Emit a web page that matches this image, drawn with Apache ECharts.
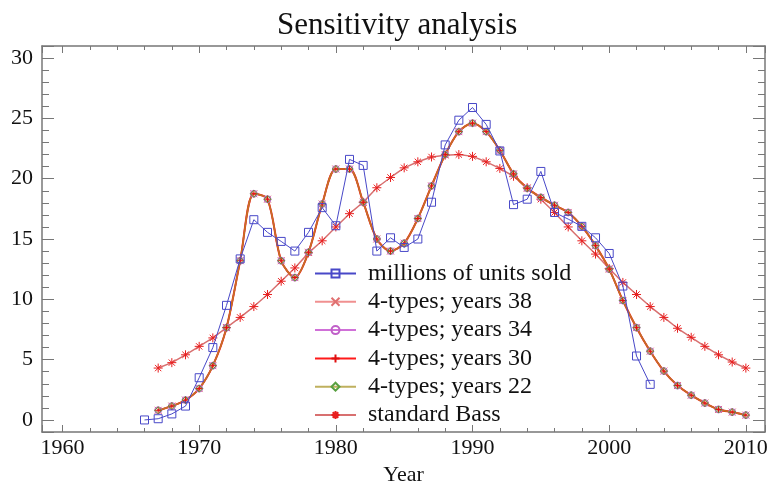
<!DOCTYPE html>
<html>
<head>
<meta charset="utf-8">
<script src="https://cdn.jsdelivr.net/npm/echarts@6/dist/echarts.min.js"></script>
<style>
  html, body { margin: 0; padding: 0; background: #fff; }
  #chart { width: 772px; height: 488px; }
</style>
</head>
<body>
<div id="chart"></div>
<script>
// observed sales (millions of units)
const salesYears = [1966, 1967, 1968, 1969, 1970, 1971, 1972, 1973, 1974, 1975,
  1976, 1977, 1978, 1979, 1980, 1981, 1982, 1983, 1984, 1985,
  1986, 1987, 1988, 1989, 1990, 1991, 1992, 1993, 1994, 1995,
  1996, 1997, 1998, 1999, 2000, 2001, 2002, 2003];
const salesValues = [0, 0.1, 0.5, 1.15, 3.5, 6.0, 9.5, 13.35, 16.6, 15.55,
  14.8, 14.0, 15.55, 17.6, 16.1, 21.6, 21.1, 14.0, 15.1, 14.3,
  15.0, 18.05, 22.8, 24.85, 25.9, 24.5, 22.3, 17.85, 18.3, 20.6,
  17.2, 16.65, 16.05, 15.1, 13.8, 11.1, 5.3, 2.95];

// model years
const modelYears = [1967, 1968, 1969, 1970, 1971, 1972, 1973, 1974, 1975, 1976,
  1977, 1978, 1979, 1980, 1981, 1982, 1983, 1984, 1985, 1986,
  1987, 1988, 1989, 1990, 1991, 1992, 1993, 1994, 1995, 1996,
  1997, 1998, 1999, 2000, 2001, 2002, 2003, 2004, 2005, 2006,
  2007, 2008, 2009, 2010];
// the four 4-types fits overlap at this resolution
const fourTypesFit = [0.8, 1.15, 1.65, 2.6, 4.5, 7.65, 13.2, 18.75, 18.3, 13.2,
  11.8, 13.9, 17.9, 20.8, 20.8, 18.05, 15.0, 14.0, 14.65, 16.7,
  19.4, 22.0, 23.9, 24.6, 23.9, 22.35, 20.4, 19.2, 18.45, 17.8,
  17.2, 16.05, 14.45, 12.5, 9.9, 7.65, 5.7, 4.05, 2.85, 2.05,
  1.4, 0.87, 0.65, 0.4];
const bassValues = [4.3, 4.75, 5.4, 6.1, 6.8, 7.65, 8.5, 9.4, 10.4, 11.5,
  12.6, 13.85, 14.85, 16.0, 17.1, 18.05, 19.25, 20.1, 20.9, 21.4,
  21.8, 21.95, 22.0, 21.85, 21.4, 20.85, 20.2, 19.25, 18.3, 17.2,
  16.0, 14.85, 13.75, 12.55, 11.4, 10.4, 9.4, 8.5, 7.6, 6.85,
  6.1, 5.4, 4.8, 4.3];

const serif = 'Liberation Serif';
const axisGray = '#777';
const clear = 'rgba(255,255,255,0)';
const pairs = (xs, ys) => xs.map((x, i) => [x, ys[i]]);

const asterisk = 'path://M5,0V10M0,5H10M1.5,1.5L8.5,8.5M1.5,8.5L8.5,1.5';
const cross = 'path://M0,0L10,10M0,10L10,0';
const plus = 'path://M5,0V10M0,5H10';

function fitSeries(name, color, symbol, markColor, width) {
  return {
    name: name,
    type: 'line',
    silent: true,
    data: pairs(modelYears, fourTypesFit),
    smooth: 0.3,
    symbol: symbol,
    symbolSize: 7,
    lineStyle: { color: color, width: width },
    itemStyle: { color: clear, borderColor: markColor, borderWidth: 1 },
    z: 3
  };
}

const chart = echarts.init(document.getElementById('chart'));

const xBase = {
  type: 'value', min: 1958.5, max: 2011.4, splitNumber: 5,
  axisLine: { show: true, onZero: false, lineStyle: { color: axisGray, width: 1.5 } },
  splitLine: { show: false }
};
const yBase = {
  type: 'value', min: -1, max: 31, splitNumber: 6,
  axisLine: { show: true, onZero: false, lineStyle: { color: axisGray, width: 1.5 } },
  splitLine: { show: false }
};

chart.setOption({
  animation: false,
  backgroundColor: '#fff',
  title: {
    text: 'Sensitivity analysis',
    left: 272, top: 5,
    textStyle: { fontFamily: serif, fontSize: 31, fontWeight: 'normal', color: '#111' }
  },
  grid: { left: 42, right: 7, top: 46, bottom: 56, containLabel: false, outerBoundsMode: 'none' },
  legend: {
    orient: 'vertical',
    left: 314, top: 261.5, padding: 0,
    itemWidth: 41, itemHeight: 10, itemGap: 4.3,
    textStyle: { fontFamily: serif, fontSize: 24, lineHeight: 24, color: '#111', padding: [0, 0, 0, 7] },
    data: ['millions of units sold', '4-types; years 38', '4-types; years 34',
      '4-types; years 30', '4-types; years 22', 'standard Bass']
  },
  xAxis: [
    Object.assign({}, xBase, {
      position: 'bottom',
      name: 'Year', nameLocation: 'middle', nameGap: 28,
      nameTextStyle: { fontFamily: serif, fontSize: 22, color: '#111' },
      axisTick: { inside: true, length: 7, lineStyle: { color: axisGray } },
      minorTick: { show: true, splitNumber: 5, length: 4, lineStyle: { color: axisGray } },
      axisLabel: {
        margin: 5, fontFamily: serif, fontSize: 22, color: '#111',
        showMinLabel: false, showMaxLabel: false,
        formatter: v => (v % 10 === 0 ? String(v) : '')
      }
    }),
    Object.assign({}, xBase, {
      position: 'top',
      axisTick: { inside: true, length: 7, lineStyle: { color: axisGray } },
      minorTick: { show: true, splitNumber: 5, length: 4, lineStyle: { color: axisGray } },
      axisLabel: { show: false }
    })
  ],
  yAxis: [
    Object.assign({}, yBase, {
      position: 'left',
      axisTick: { inside: true, length: 12, lineStyle: { color: axisGray } },
      minorTick: { show: true, splitNumber: 5, length: 7, lineStyle: { color: axisGray } },
      axisLabel: {
        margin: 9, fontFamily: serif, fontSize: 22, color: '#111',
        showMinLabel: false, showMaxLabel: false,
        formatter: v => (v % 5 === 0 ? String(v) : '')
      }
    }),
    Object.assign({}, yBase, {
      position: 'right',
      axisTick: { inside: true, length: 12, lineStyle: { color: axisGray } },
      minorTick: { show: true, splitNumber: 5, length: 7, lineStyle: { color: axisGray } },
      axisLabel: { show: false }
    })
  ],
  series: [
    {
      name: 'millions of units sold',
      type: 'line',
      silent: true,
      data: pairs(salesYears, salesValues),
      symbol: 'rect', symbolSize: 8,
      lineStyle: { color: '#4848c8', width: 1 },
      itemStyle: { color: clear, borderColor: '#4848c8', borderWidth: 1 },
      z: 4
    },
    fitSeries('4-types; years 38', '#f09090', cross, '#e07070', 1.5),
    fitSeries('4-types; years 34', '#d070d8', 'circle', '#c060c8', 1.5),
    fitSeries('4-types; years 30', '#ff1a1a', plus, '#e01010', 2),
    fitSeries('4-types; years 22', 'rgba(170,150,40,0.75)', 'diamond', '#58a040', 1.5),
    {
      name: 'standard Bass',
      type: 'line',
      silent: true,
      data: pairs(modelYears, bassValues),
      symbol: asterisk, symbolSize: 9,
      lineStyle: { color: '#d87070', width: 1.5 },
      itemStyle: { color: clear, borderColor: '#e82020', borderWidth: 1 },
      z: 2
    }
  ]
});
</script>
</body>
</html>
